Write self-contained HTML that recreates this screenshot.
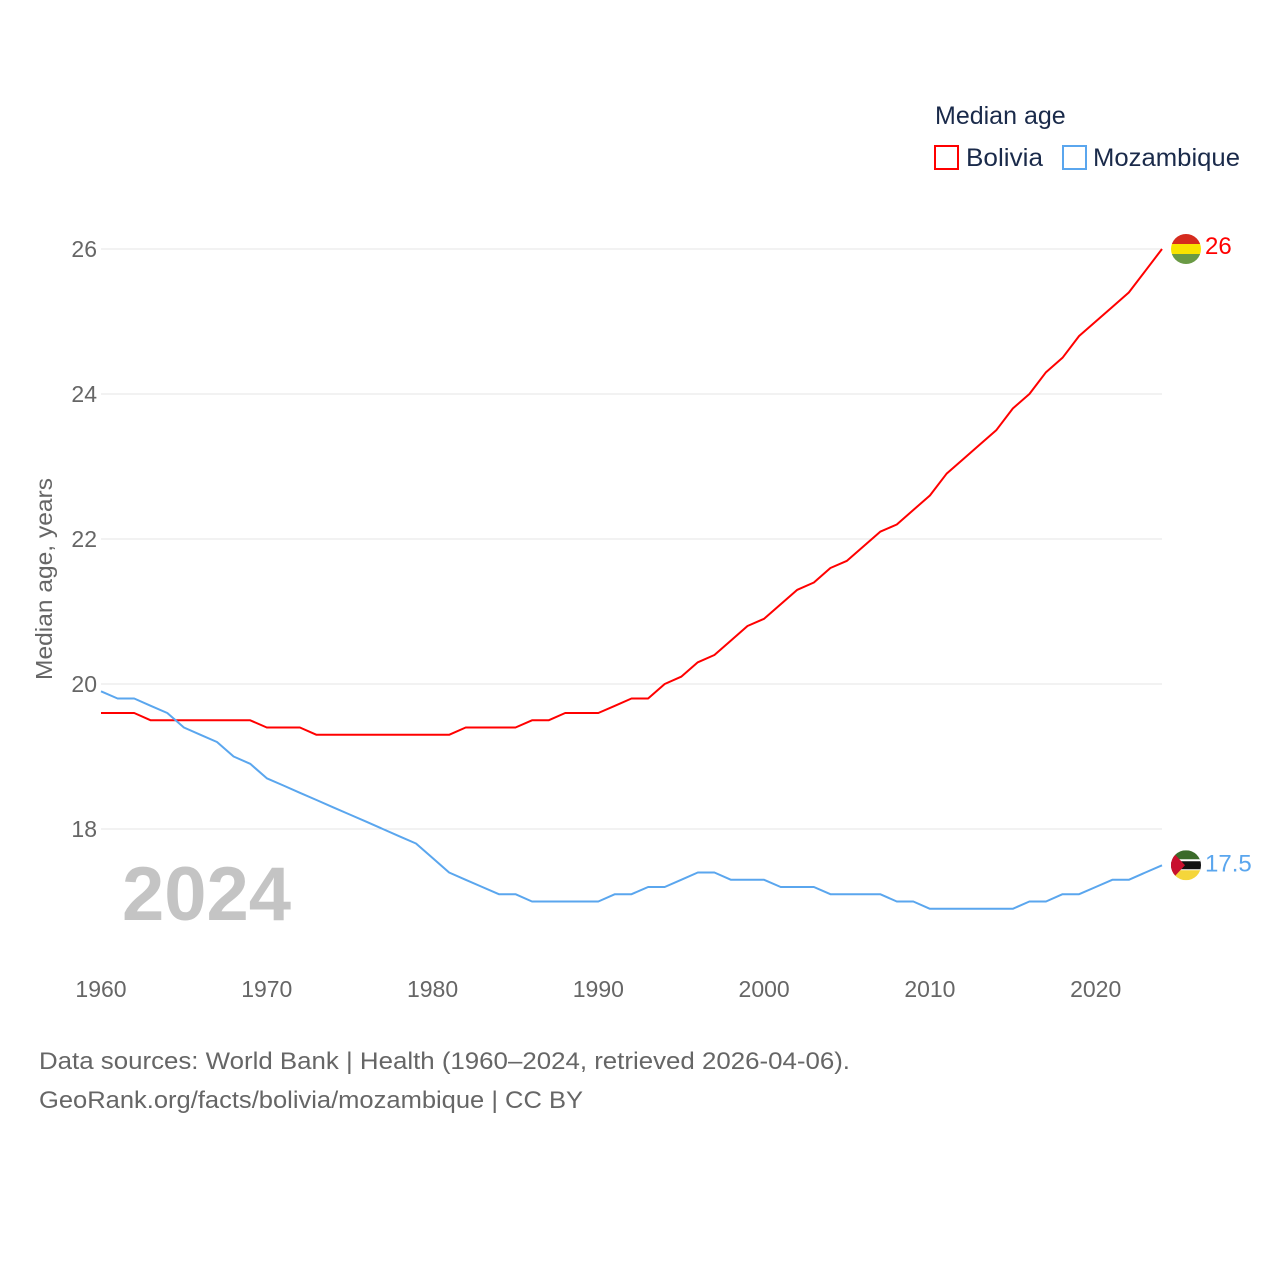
<!DOCTYPE html>
<html><head><meta charset="utf-8">
<style>
body{margin:0;background:#fff;font-family:"Liberation Sans",sans-serif;}
svg text{font-family:"Liberation Sans",sans-serif;}
</style></head>
<body>
<svg id="chart" width="1280" height="1280" xmlns="http://www.w3.org/2000/svg">
  <g id="grid"></g>
  <g id="yticks"></g>
  <g id="xticks"></g>
  <text x="52" y="579" transform="rotate(-90 52 579)" text-anchor="middle" font-size="23" fill="#666" textLength="202" lengthAdjust="spacingAndGlyphs">Median age, years</text>
  <text x="122" y="920" font-size="76" font-weight="bold" fill="#c4c4c4">2024</text>
  <g id="series"></g>
  <g>
    <text x="935" y="124" font-size="25" fill="#1a2a4a">Median age</text>
    <g>
      <rect x="935" y="146" width="23" height="23" fill="none" stroke="#ff0000" stroke-width="2"/>
      <text x="966" y="166" font-size="25" fill="#1a2a4a" textLength="77" lengthAdjust="spacingAndGlyphs">Bolivia</text>
    </g>
    <g>
      <rect x="1063" y="146" width="23" height="23" fill="none" stroke="#5aa6ee" stroke-width="2"/>
      <text x="1093" y="166" font-size="25" fill="#1a2a4a" textLength="147" lengthAdjust="spacingAndGlyphs">Mozambique</text>
    </g>
  </g>
  <text x="39" y="1069" font-size="24" fill="#666" textLength="811" lengthAdjust="spacingAndGlyphs">Data sources: World Bank | Health (1960–2024, retrieved 2026-04-06).</text>
  <text x="39" y="1108" font-size="24" fill="#666" textLength="544" lengthAdjust="spacingAndGlyphs">GeoRank.org/facts/bolivia/mozambique | CC BY</text>
</svg>
<script>
const years = [];
for (let y = 1960; y <= 2024; y++) years.push(y);
const bolivia = [19.6,19.6,19.6,19.5,19.5,19.5,19.5,19.5,19.5,19.5,19.4,19.4,19.4,19.3,19.3,19.3,19.3,19.3,19.3,19.3,19.3,19.3,19.4,19.4,19.4,19.4,19.5,19.5,19.6,19.6,19.6,19.7,19.8,19.8,20.0,20.1,20.3,20.4,20.6,20.8,20.9,21.1,21.3,21.4,21.6,21.7,21.9,22.1,22.2,22.4,22.6,22.9,23.1,23.3,23.5,23.8,24.0,24.3,24.5,24.8,25.0,25.2,25.4,25.7,26.0];
const mozambique = [19.9,19.8,19.8,19.7,19.6,19.4,19.3,19.2,19.0,18.9,18.7,18.6,18.5,18.4,18.3,18.2,18.1,18.0,17.9,17.8,17.6,17.4,17.3,17.2,17.1,17.1,17.0,17.0,17.0,17.0,17.0,17.1,17.1,17.2,17.2,17.3,17.4,17.4,17.3,17.3,17.3,17.2,17.2,17.2,17.1,17.1,17.1,17.1,17.0,17.0,16.9,16.9,16.9,16.9,16.9,16.9,17.0,17.0,17.1,17.1,17.2,17.3,17.3,17.4,17.5];
const yTicks = [18,20,22,24,26];
const xTicks = [1960,1970,1980,1990,2000,2010,2020];

const NS = "http://www.w3.org/2000/svg";
const xS = v => 101 + (v - 1960) * (1162 - 101) / 64;
const yS = v => 829 - (v - 18) * 72.5;
function mk(tag, attrs, parent){const e=document.createElementNS(NS,tag);for(const k in attrs)e.setAttribute(k,attrs[k]);parent.appendChild(e);return e;}

const grid=document.getElementById('grid'), yt=document.getElementById('yticks'), xt=document.getElementById('xticks'), ser=document.getElementById('series');
yTicks.forEach(t=>{
  const l=mk('line',{x1:101,x2:1162,y1:yS(t),y2:yS(t),stroke:'#e6e6e6','stroke-width':1},grid);
  
  
  const tx=mk('text',{x:97,y:yS(t)+8,'text-anchor':'end','font-size':23,fill:'#666'},yt);
  tx.textContent=t;
  
  
});
xTicks.forEach(t=>{
  const tx=mk('text',{x:xS(t),y:997,'text-anchor':'middle','font-size':23,fill:'#666'},xt);
  tx.textContent=t;
  
  
});
function line(vals,color,name){
  const d=vals.map((v,i)=>(i?'L':'M')+xS(years[i]).toFixed(1)+' '+yS(v).toFixed(1)).join(' ');
  const p=mk('path',{d:d,fill:'none',stroke:color,'stroke-width':2,'stroke-linejoin':'round'},ser);
  
  
}
line(bolivia,'#ff0000','bolivia');
line(mozambique,'#5aa6ee','mozambique');

const bx=1186, by=yS(bolivia[bolivia.length-1]);
const cp=mk('clipPath',{id:'cb'},ser); mk('circle',{cx:bx,cy:by,r:15},cp);
const fb=mk('g',{'clip-path':'url(#cb)'},ser);


mk('rect',{x:bx-15,y:by-15,width:30,height:10,fill:'#d52b1e'},fb);
mk('rect',{x:bx-15,y:by-5,width:30,height:10,fill:'#f9e300'},fb);
mk('rect',{x:bx-15,y:by+5,width:30,height:10,fill:'#6a9a45'},fb);
const bl=mk('text',{x:1205,y:by+5,'font-size':24,fill:'#ff0000'},ser);
bl.textContent=String(bolivia[bolivia.length-1]);



const mx=1186, my=yS(mozambique[mozambique.length-1]);
const cm=mk('clipPath',{id:'cm'},ser); mk('circle',{cx:mx,cy:my,r:15},cm);
const fm=mk('g',{'clip-path':'url(#cm)'},ser);


mk('rect',{x:mx-15,y:my-15,width:30,height:10,fill:'#3b6b2a'},fm);
mk('rect',{x:mx-15,y:my-5,width:30,height:10,fill:'#111'},fm);
mk('rect',{x:mx-15,y:my-6,width:30,height:2,fill:'#fff'},fm);
mk('rect',{x:mx-15,y:my+4,width:30,height:2,fill:'#fff'},fm);
mk('rect',{x:mx-15,y:my+5,width:30,height:10,fill:'#f5d63a'},fm);
mk('polygon',{points:`${mx-15},${my-15} ${mx-1},${my} ${mx-15},${my+15}`,fill:'#c8102e'},fm);
const ml=mk('text',{x:1205,y:my+6,'font-size':24,fill:'#5aa6ee'},ser);
ml.textContent=String(mozambique[mozambique.length-1]);


</script>
</body></html>
